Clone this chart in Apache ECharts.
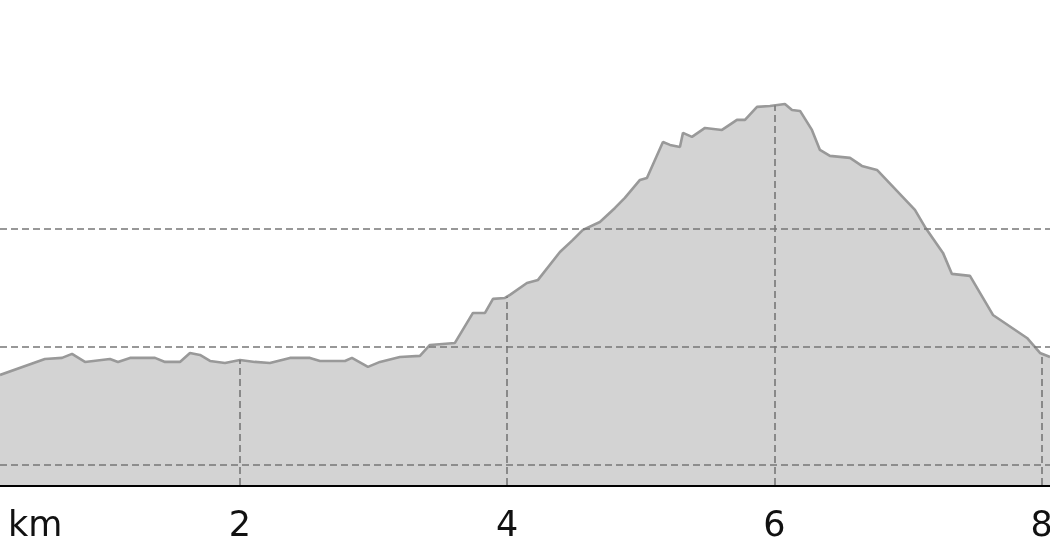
<!DOCTYPE html>
<html>
<head>
<meta charset="utf-8">
<script src="https://cdn.jsdelivr.net/npm/echarts@6/dist/echarts.min.js"></script>
<style>
html,body{margin:0;padding:0;background:#fff;overflow:hidden;}
#chart{width:1050px;height:560px;}
</style>
</head>
<body>
<div id="chart"></div>
<script>
// distance along the route (km)
const distanceKm = [0.204,0.540,0.668,0.743,0.840,1.027,1.087,1.177,1.364,1.439,1.551,1.626,1.701,1.776,1.888,2.000,2.112,2.224,2.374,2.524,2.599,2.786,2.838,2.958,3.048,3.197,3.347,3.422,3.609,3.744,3.834,3.894,3.983,4.021,4.148,4.231,4.395,4.492,4.567,4.694,4.807,4.881,4.994,5.046,5.166,5.219,5.293,5.316,5.383,5.481,5.608,5.720,5.780,5.870,5.967,6.079,6.132,6.192,6.281,6.341,6.416,6.566,6.655,6.768,7.052,7.127,7.262,7.329,7.464,7.636,7.891,7.988,8.063];
// elevation (m)
const elevationM = [276.3,289.8,290.7,294.1,287.3,289.8,287.3,290.7,290.7,287.3,287.3,294.9,293.2,288.1,286.4,289.0,287.3,286.4,290.7,290.7,288.1,288.1,290.7,283.1,287.3,291.5,292.4,301.7,303.4,328.8,328.8,340.7,341.5,344.1,354.2,356.8,380.5,390.7,399.2,405.9,417.8,426.3,441.5,443.2,473.7,471.2,469.5,481.4,478.0,485.6,483.9,492.4,492.4,503.4,504.2,505.9,500.8,500.0,483.9,466.9,461.9,460.2,453.4,450.0,416.1,401.7,379.7,361.9,360.2,327.1,307.6,294.9,291.5];
// x tick values with drop lines
const kmTicks = [2,4,6,8];
// horizontal elevation guides
const elevationGuides = [200,300,400];
const axisUnit = 'km';

const X_MIN = 0.204, X_MAX = 8.063, Y_MIN = 183, Y_MAX = 594;

function elevAt(x){
  for(let i=0;i<distanceKm.length-1;i++){
    const a=distanceKm[i], b=distanceKm[i+1];
    if(x>=a && x<=b){
      const t=(x-a)/(b-a);
      return elevationM[i]+t*(elevationM[i+1]-elevationM[i]);
    }
  }
  return elevationM[elevationM.length-1];
}

const data = distanceKm.map((d,i)=>[d, elevationM[i]]);
const dashStyle = {color:'#777', width:1.6, type:[7,4]};

const markData = elevationGuides.map(v=>({yAxis:v}))
  .concat(kmTicks.map(k=>[{coord:[k, Y_MIN]},{coord:[k, elevAt(k)]}]));

const chart = echarts.init(document.getElementById('chart'), null, {renderer:'canvas'});
chart.setOption({
  animation:false,
  backgroundColor:'#fff',
  grid:{left:0,right:0,top:0,bottom:75,containLabel:false,outerBoundsMode:'none'},
  xAxis:{
    type:'value', min:X_MIN, max:X_MAX,
    axisLine:{show:true,lineStyle:{color:'#000',width:3}},
    axisTick:{show:false},
    splitLine:{show:false},
    axisLabel:{
      margin:24, color:'#111', fontSize:35, fontFamily:'DejaVu Sans',
      hideOverlap:false,
      formatter:function(v){ return kmTicks.some(k=>Math.abs(k-v)<1e-6) ? String(Math.round(v)) : ''; }
    }
  },
  yAxis:{
    type:'value', min:Y_MIN, max:Y_MAX, show:false,
    splitLine:{show:false}
  },
  graphic:[{
    type:'text', left:8, top:509,
    style:{text:axisUnit, fill:'#111', font:'35px "DejaVu Sans"'}
  }],
  series:[{
    type:'line',
    data:data,
    symbol:'none',
    lineStyle:{color:'#999',width:2.6},
    areaStyle:{color:'#d3d3d3',opacity:1,origin:'start'},
    markLine:{
      silent:true, symbol:'none', animation:false,
      label:{show:false},
      lineStyle:dashStyle,
      emphasis:{disabled:true},
      data:markData
    }
  }]
});
</script>
</body>
</html>
